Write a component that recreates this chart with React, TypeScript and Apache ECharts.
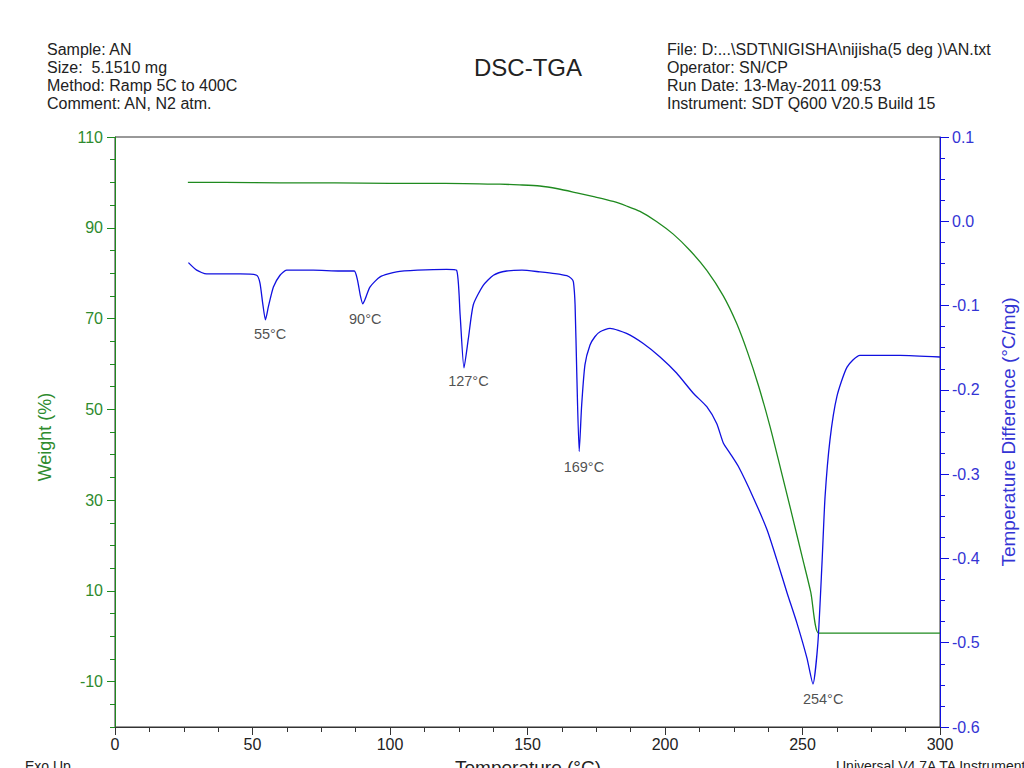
import React, { useEffect, useRef } from "react";
import * as echarts from "echarts";

// ---- Data ----
const tgaT = [26.5, 40, 60, 80, 100, 120, 140, 147, 154.5, 161, 167.9, 174.5, 181.2, 186, 190.9, 196.9, 203, 209.1, 215.2, 221.2, 226.0, 230.0, 234.0, 238.2, 242.0, 246.0, 250.0, 253.0, 255.8, 260, 280, 300];
const tgaW = [100.0, 100.0, 99.9, 99.9, 99.8, 99.8, 99.6, 99.45, 99.2, 98.6, 97.7, 96.8, 95.8, 94.8, 93.6, 91.4, 88.6, 85.0, 80.6, 75.0, 69.0, 62.6, 55.2, 46.2, 37.0, 27.2, 17.2, 9.7, 0.7, 0.7, 0.7, 0.7];

const dscT = [26.7, 29.7, 33.3, 39.3, 45.5, 51.5, 52.7, 53.7, 54.7, 55.8, 57.6, 60.0, 62.4, 72.1, 81.8, 87.0, 88.2, 89.2, 90.1, 91.0, 92.7, 96.4, 102.4, 110, 120.6, 124.2, 125.5, 126.9, 128.5, 130.3, 133.9, 137.6, 142.4, 148, 154.5, 160, 164.3, 166.0, 166.7, 167.3, 167.9, 168.8, 169.7, 170.9, 172.7, 174.5, 176.4, 180, 186, 192.1, 198.2, 204.2, 210.3, 215.2, 218.8, 221.2, 223.6, 226.7, 232, 237.1, 240.7, 244.4, 248, 251.6, 253.8, 255.6, 257.1, 258.2, 260, 262.5, 266.2, 270.9, 285.5, 300];
const dscD = [-0.049, -0.058, -0.0625, -0.0625, -0.0625, -0.064, -0.073, -0.097, -0.117, -0.101, -0.078, -0.064, -0.058, -0.058, -0.059, -0.059, -0.07, -0.088, -0.098, -0.092, -0.078, -0.066, -0.06, -0.058, -0.057, -0.058, -0.111, -0.174, -0.139, -0.099, -0.076, -0.064, -0.059, -0.058, -0.06, -0.062, -0.0645, -0.068, -0.072, -0.099, -0.178, -0.273, -0.218, -0.17, -0.147, -0.137, -0.131, -0.127, -0.133, -0.145, -0.161, -0.18, -0.204, -0.22, -0.24, -0.263, -0.275, -0.291, -0.327, -0.366, -0.402, -0.441, -0.477, -0.518, -0.549, -0.5, -0.405, -0.327, -0.259, -0.208, -0.173, -0.159, -0.159, -0.161];

const peakLabels = ["55°C", "90°C", "127°C", "169°C", "254°C"];
const peakLabelT = [56.4, 91.0, 128.5, 170.5, 257.5];
const peakLabelD = [-0.134, -0.116, -0.190, -0.291, -0.567];

const weightTickLabels = [-10, 10, 30, 50, 70, 90, 110];

const headerLeft = ["Sample: AN", "Size:  5.1510 mg", "Method: Ramp 5C to 400C", "Comment: AN, N2 atm."];
const headerRight = ["File: D:...\\SDT\\NIGISHA\\nijisha(5 deg )\\AN.txt", "Operator: SN/CP", "Run Date: 13-May-2011 09:53", "Instrument: SDT Q600 V20.5 Build 15"];

const GREEN = "#1f8a1f";
const GREEN_TXT = "#2e8b2e";
const BLUE = "#1010e0";
const BLUE_TXT = "#3434d4";
const FONT = "'Liberation Sans', Arial, Helvetica, sans-serif";

export default function App() {
  const ref = useRef<HTMLDivElement>(null);
  useEffect(() => {
    if (!ref.current) return;
    const chart = echarts.init(ref.current, undefined, { renderer: "svg" });
    const option: any = {
      animation: false,
      backgroundColor: "#ffffff",
      textStyle: { fontFamily: FONT },
      grid: { left: 115, right: 84, top: 137, bottom: 41, show: true, borderColor: "#333", borderWidth: 1, backgroundColor: "transparent" },
      xAxis: {
        type: "value", min: 0, max: 300, interval: 50,
        axisLine: { show: true, onZero: false, lineStyle: { color: "#333", width: 1 } },
        axisTick: { show: true, length: 8, lineStyle: { color: "#333" } },
        minorTick: { show: true, splitNumber: 4, length: 5, lineStyle: { color: "#333" } },
        axisLabel: { color: "#222", fontSize: 16, margin: 9, fontFamily: FONT },
        splitLine: { show: false },
      },
      yAxis: [
        {
          type: "value", min: -20, max: 110, interval: 5, position: "left",
          axisLine: { show: true, onZero: false, lineStyle: { color: GREEN, width: 1 } },
          axisTick: { show: true, length: 5, lineStyle: { color: GREEN } },
          axisLabel: { show: true, color: GREEN_TXT, fontSize: 16, margin: 12, fontFamily: FONT,
            formatter: (v: number) => (weightTickLabels.indexOf(v) >= 0 ? String(v) : "") },
          splitLine: { show: false },
        },
        {
          type: "value", min: -0.6, max: 0.1, interval: 0.1, position: "right",
          axisLine: { show: true, onZero: false, lineStyle: { color: BLUE, width: 1 } },
          axisTick: { show: true, length: 9, lineStyle: { color: BLUE } },
          minorTick: { show: true, splitNumber: 4, length: 5, lineStyle: { color: BLUE } },
          axisLabel: { color: BLUE_TXT, fontSize: 16, margin: 12, fontFamily: FONT,
            formatter: (v: number) => v.toFixed(1) },
          splitLine: { show: false },
        },
        {
          type: "value", min: -20, max: 110, position: "left",
          axisLine: { show: false },
          axisTick: { show: true, length: 8, lineStyle: { color: GREEN }, customValues: weightTickLabels },
          axisLabel: { show: false },
          splitLine: { show: false },
        },
      ],
      series: [
        {
          type: "line", name: "Weight", yAxisIndex: 0, showSymbol: false, smooth: 0.25,
          lineStyle: { color: GREEN, width: 1.3 },
          data: tgaT.map((t, i) => [t, tgaW[i]]),
        },
        {
          type: "line", name: "DSC", yAxisIndex: 1, showSymbol: false, smooth: 0.2,
          lineStyle: { color: BLUE, width: 1.3 },
          data: dscT.map((t, i) => [t, dscD[i]]),
        },
        {
          type: "scatter", yAxisIndex: 1, symbolSize: 0, silent: true,
          label: { show: true, position: "inside", color: "#222", fontSize: 14.5, fontFamily: FONT,
            formatter: (p: any) => peakLabels[p.dataIndex] },
          data: peakLabelT.map((t, i) => [t, peakLabelD[i]]),
        },
      ],
      graphic: [
        { type: "text", left: 47, top: 40, style: { text: headerLeft.join("\n"), fontSize: 16, lineHeight: 18, fill: "#222", fontFamily: FONT } },
        { type: "text", left: 667, top: 40, style: { text: headerRight.join("\n"), fontSize: 16, lineHeight: 18, fill: "#222", fontFamily: FONT } },
        { type: "text", x: 528, y: 67, style: { text: "DSC-TGA", fontSize: 24, fill: "#222", fontFamily: FONT, textAlign: "center", textVerticalAlign: "middle" } },
        { type: "text", x: 45, y: 437, rotation: Math.PI / 2, style: { text: "Weight (%)", fontSize: 18, fill: GREEN_TXT, fontFamily: FONT, textAlign: "center", textVerticalAlign: "middle" } },
        { type: "text", x: 1008, y: 432, rotation: Math.PI / 2, style: { text: "Temperature Difference (°C/mg)", fontSize: 19, fill: BLUE_TXT, fontFamily: FONT, textAlign: "center", textVerticalAlign: "middle" } },
        { type: "text", left: 25, top: 759, style: { text: "Exo Up", fontSize: 14, fill: "#222", fontFamily: FONT } },
        { type: "text", x: 528, y: 758, style: { text: "Temperature (°C)", fontSize: 19, fill: "#222", fontFamily: FONT, textAlign: "center", textVerticalAlign: "top" } },
        { type: "text", left: 836, top: 759, style: { text: "Universal V4.7A TA Instruments", fontSize: 14, fill: "#222", fontFamily: FONT } },
      ],
    };
    chart.setOption(option);
    return () => chart.dispose();
  }, []);
  return <div ref={ref} style={{ position: "absolute", left: 0, top: 0, width: 1024, height: 768 }} />;
}
